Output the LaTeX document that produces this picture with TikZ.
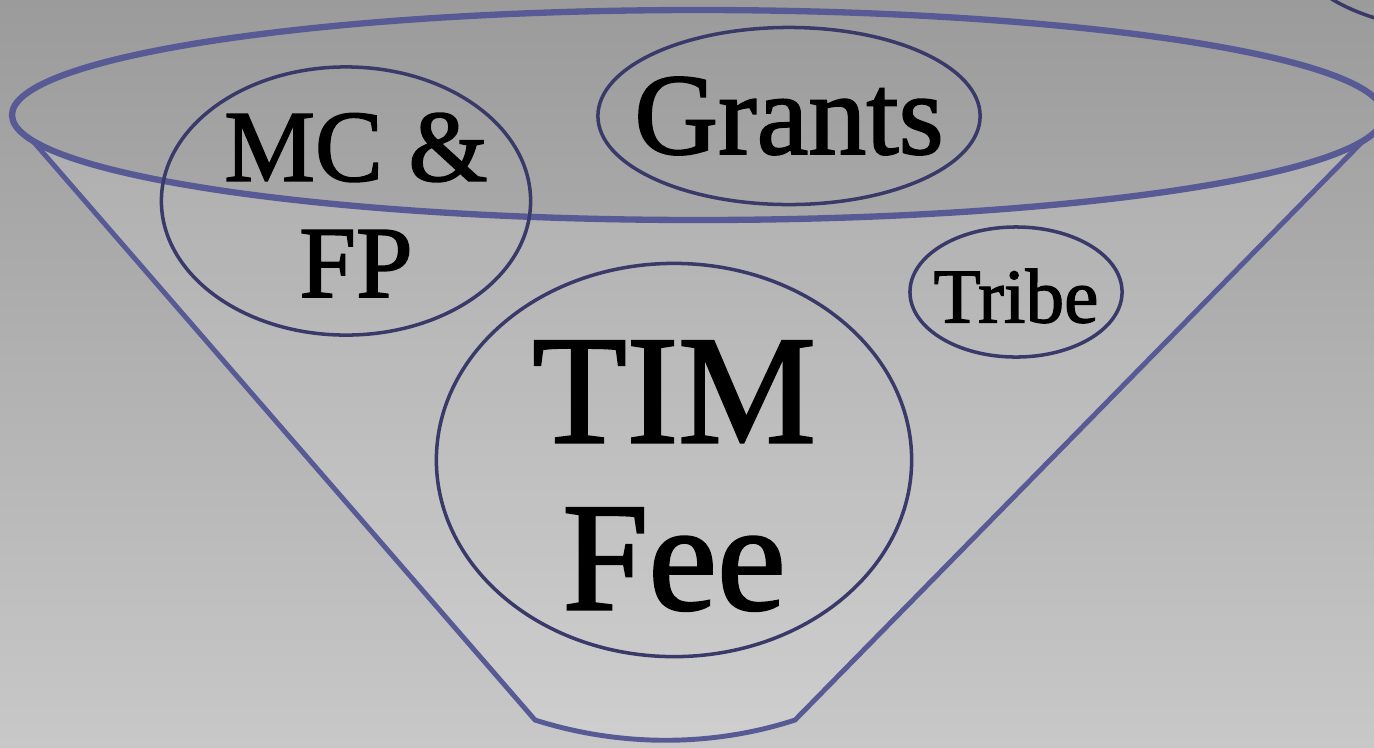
\documentclass[tikz,border=0pt]{standalone}
\usepackage{fontspec}
\setmainfont[FakeBold=1.6]{Liberation Serif}
\usetikzlibrary{calc, positioning}
\usetikzlibrary{shapes.geometric}
\definecolor{funnelblue}{RGB}{87,90,148}
\definecolor{ringblue}{RGB}{58,58,106}
\definecolor{bgtop}{RGB}{155,155,155}
\definecolor{bgmid}{RGB}{166,166,166}
\definecolor{bgbot}{RGB}{200,200,200}
\tikzset{
    funnel/.style = {
        draw=funnelblue, line width=1.4pt, line join=round
    },
    rim/.style = {
        draw=funnelblue, line width=1.8pt
    },
    source/.style = {
        draw=ringblue, ellipse, line width=1pt, inner sep=0pt
    },
    sourcetext/.style = {
        align=center, inner sep=0pt
    },
}

\begin{document}
\begin{tikzpicture}[x=0.01cm, y=0.01cm]
        % Background
        \useasboundingbox (0,0) rectangle (1374,747);
        \clip (0,0) rectangle (1374,747);
        \shade[top color=bgtop, middle color=bgmid, bottom color=bgbot] (0,0) rectangle (1374,747);

        % Funnel corners
        \coordinate (rimc) at (698,632);
        \path (rimc) ++(194:686 and 105) coordinate (lc);
        \path (rimc) ++(-14:686 and 105) coordinate (rc);
        \coordinate (lb) at (535,27);
        \coordinate (rb) at (795,27);

        % Funnel body
        \fill[white, fill opacity=0.13] (lc) -- (lb) .. controls (620,0) and (712,0) .. (rb) -- (rc)
            arc[start angle=-14, end angle=-166, x radius=686, y radius=105] -- cycle;
        \draw[funnel] (lc) -- (lb) .. controls (620,0) and (712,0) .. (rb) -- (rc);
        \draw[rim] (rimc) ellipse [x radius=686, y radius=105];

        % Sources
        \node[source, minimum width=3.69cm, minimum height=2.68cm,
            label={[sourcetext, name=mcfp-text, xshift=0.1cm, yshift=-0.04cm,
                    font=\fontsize{29}{33}\selectfont]center:MC \&\\FP}] (mcfp) at (346,546) {};
        \node[source, minimum width=3.82cm, minimum height=1.77cm,
            label={[sourcetext, name=grants-text,
                    font=\fontsize{33}{36}\selectfont]center:Grants}] (grants) at (789,631) {};
        \node[source, minimum width=2.12cm, minimum height=1.30cm,
            label={[sourcetext, name=tribe-text, yshift=-0.04cm,
                    font=\fontsize{22}{26}\selectfont]center:Tribe}] (tribe) at (1016,455) {};
        \node[source, minimum width=4.75cm, minimum height=3.93cm,
            label={[sourcetext, name=timfee-text, yshift=-0.16cm,
                    font=\fontsize{44}{47.5}\selectfont]center:TIM\\Fee}] (timfee) at (674,287) {};

        % Corner ring
        \draw[draw=ringblue, line width=1pt] (1460,807) ellipse [x radius=170, y radius=90];
    \end{tikzpicture}
\end{document}
